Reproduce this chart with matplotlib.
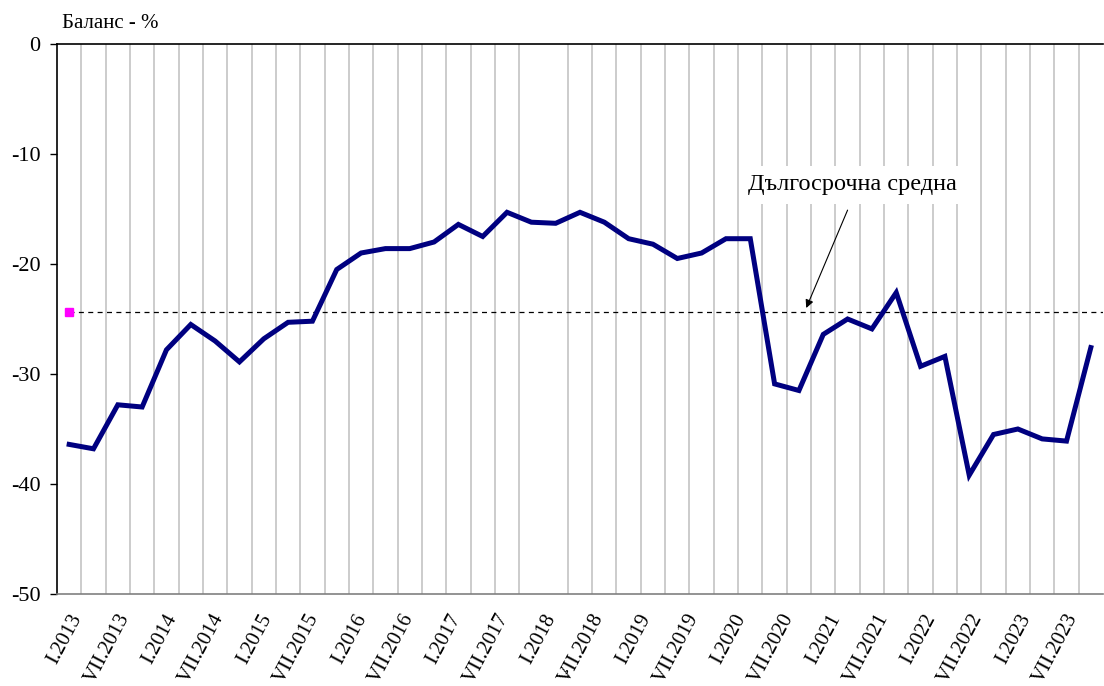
import matplotlib
matplotlib.use('Agg')
import matplotlib.pyplot as plt
import numpy as np

plt.rcParams['font.family'] = ['Liberation Serif', 'DejaVu Serif']
plt.rcParams['axes.unicode_minus'] = False

# quarters I.2013 .. VII.2023
quarters = ['I', 'IV', 'VII', 'X']
years = list(range(2013, 2024))
categories = [f'{q}.{y}' for y in years for q in quarters][:43]

balance = [-36.4, -36.8, -32.8, -33.0, -27.8, -25.5, -27.0, -28.9, -26.8, -25.3,
           -25.2, -20.5, -19.0, -18.6, -18.6, -18.0, -16.4, -17.5, -15.3, -16.2,
           -16.3, -15.3, -16.2, -17.7, -18.2, -19.5, -19.0, -17.7, -17.7, -30.9,
           -31.5, -26.4, -25.0, -25.9, -22.6, -29.3, -28.4, -39.2, -35.5, -35.0,
           -35.9, -36.1, -27.6]
long_term_avg = -24.4

y_ticks = [0, -10, -20, -30, -40, -50]

fig = plt.figure(figsize=(11.04, 6.86), dpi=100)
ax = fig.add_axes([57 / 1104, 1 - 594 / 686, 1046 / 1104, 550 / 686])

x = np.arange(len(categories))
n = len(categories)

# vertical gridlines between the quarters
ax.set_xticks(np.arange(0.5, n - 1, 1.0), minor=True)
ax.grid(True, which='minor', axis='x', color='#c8c8c8', lw=1.3)
ax.tick_params(axis='x', which='minor', length=0)

# long-term average
ax.hlines(long_term_avg, 0, n - 0.5, colors='black', lw=0.9,
          linestyles=(0, (4, 3.5)), zorder=2)
ax.plot([0], [long_term_avg], 's', color='#ff00ff', ms=6, zorder=3)

ax.plot(x, balance, color='#000080', lw=3.6, solid_joinstyle='miter', zorder=4)

ax.set_xlim(-0.5, n - 0.5)
ax.set_ylim(-50, 0)
ax.set_yticks(y_ticks)
ax.set_yticklabels([str(v) for v in y_ticks], fontsize=16)
ax.tick_params(axis='y', direction='out', length=5, width=1, pad=7)

# excel packs the rotated labels a little tighter than the categories
ax.set_xticks(x[::2] * 0.975)
ax.set_xticklabels(categories[::2], rotation=62, ha='right', va='top',
                   rotation_mode='anchor', fontsize=15)
ax.tick_params(axis='x', which='major', length=0, pad=12)

ax.spines['right'].set_visible(False)
ax.spines['top'].set_color('black')
ax.spines['top'].set_linewidth(1.2)
ax.spines['left'].set_color('black')
ax.spines['left'].set_linewidth(1.2)
ax.spines['bottom'].set_color('#808080')
ax.spines['bottom'].set_linewidth(1.2)

ax.text(32.2, -12.8, 'Дългосрочна средна', fontsize=17.5, ha='center', va='center',
        bbox=dict(boxstyle='square,pad=0.35', fc='white', ec='none'), zorder=5)
ax.annotate('', xy=(30.3, -24.0), xytext=(32.0, -15.1),
            arrowprops=dict(arrowstyle='-|>', color='black', lw=0.8,
                            mutation_scale=12, shrinkA=0, shrinkB=0), zorder=5)

fig.text(62 / 1104, 1 - 24 / 686, 'Баланс - %', fontsize=15, ha='left', va='center')
fig.text(566 / 1104, 1 - 668 / 686, ',', fontsize=12, ha='center', va='center')

fig.savefig('out.png', dpi=100)
